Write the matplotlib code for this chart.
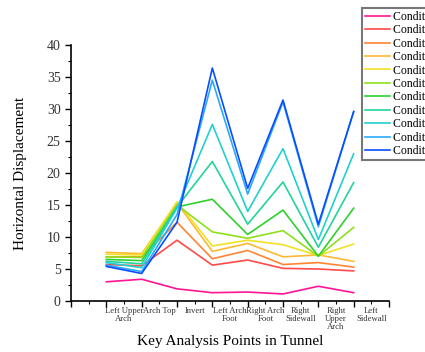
import matplotlib
matplotlib.use("Agg")
import matplotlib.pyplot as plt
import numpy as np

plt.rcParams['font.family'] = ['Liberation Serif', 'DejaVu Serif']

points = ["Left Upper\nArch", "Arch Top", "Invert", "Left Arch\nFoot", "Right Arch\nFoot",
          "Right\nSidewall", "Right\nUpper\nArch", "Left\nSidewall"]
conditions = ["Condition %d" % i for i in range(1, 12)]
colors = ["#ff1493", "#ff4a4a", "#ff8533", "#ffb833", "#f2e024", "#8ee01a",
          "#2ed12e", "#22d49a", "#22d0d0", "#2aa8ff", "#0a4dff"]

c1 = [3.0, 3.4, 1.9, 1.3, 1.4, 1.1, 2.3, 1.3]
c2 = [5.7, 5.5, 9.5, 5.6, 6.4, 5.1, 5.0, 4.7]
c3 = [6.9, 6.9, 12.3, 6.6, 7.9, 5.7, 6.0, 5.3]
c4 = [7.6, 7.4, 15.3, 7.75, 9.0, 6.9, 7.2, 6.2]
c5 = [7.3, 7.2, 15.5, 8.6, 9.5, 8.8, 7.1, 8.9]
c6 = [6.9, 6.8, 15.0, 10.8, 9.8, 11.0, 7.0, 11.5]
c7 = [6.5, 6.3, 14.7, 15.9, 10.4, 14.2, 7.0, 14.5]
c8 = [6.2, 5.8, 14.7, 21.8, 12.0, 18.6, 8.4, 18.5]
c9 = [6.0, 5.2, 14.5, 27.6, 14.0, 23.8, 9.6, 23.0]
c10 = [5.6, 4.6, 13.5, 34.5, 16.7, 31.1, 11.6, 29.6]
c11 = [5.4, 4.3, 12.3, 36.4, 17.6, 31.4, 12.0, 29.6]
series = [c1, c2, c3, c4, c5, c6, c7, c8, c9, c10, c11]

fig = plt.figure(figsize=(4.25, 3.52), dpi=100)
ax = fig.add_axes([71/425, 1-301/352, 318/425, 256/352])

x = np.arange(1, len(points) + 1)
for vals, col, name in zip(series, colors, conditions):
    ax.plot(x, vals, color=col, lw=1.2, label=name)

ax.set_xlim(0, 9)
ax.set_ylim(0, 40)
ax.spines['top'].set_visible(False)
ax.spines['right'].set_visible(False)
for s in ['left', 'bottom']:
    ax.spines[s].set_linewidth(1.2)

ax.set_xticks(np.arange(0, 10))
ax.set_xticklabels([])
ax.set_xticks(np.arange(0.5, 9, 1), minor=True)
ax.set_xticklabels([""] + points, minor=True, fontsize=6.2, linespacing=1.0, color='#333333')
ax.tick_params(axis='x', which='major', length=4, width=1, direction='out')
ax.tick_params(axis='x', which='minor', length=2.5, width=0.8, direction='out', pad=1.5)

ax.set_yticks(np.arange(0, 41, 5))
ax.set_yticks(np.arange(2.5, 40, 5), minor=True)
ax.tick_params(axis='y', which='major', length=4, width=1, labelsize=10, labelcolor='#333333')
ax.tick_params(axis='y', which='minor', length=2.5, width=0.8)

ax.set_xlabel("Key Analysis Points in Tunnel", fontsize=11, labelpad=3)
ax.set_ylabel("Horizontal Displacement", fontsize=11, labelpad=14)

leg = ax.legend(loc='upper left', bbox_to_anchor=(362/425, 1-8/352), bbox_transform=fig.transFigure,
                fontsize=8.5, frameon=True, fancybox=False, handlelength=2.1, handletextpad=0.25,
                labelspacing=0.12, borderpad=0.25, borderaxespad=0)
leg.get_frame().set_edgecolor('#555555')
leg.get_frame().set_linewidth(1.5)

fig.savefig("out.png", dpi=100)
